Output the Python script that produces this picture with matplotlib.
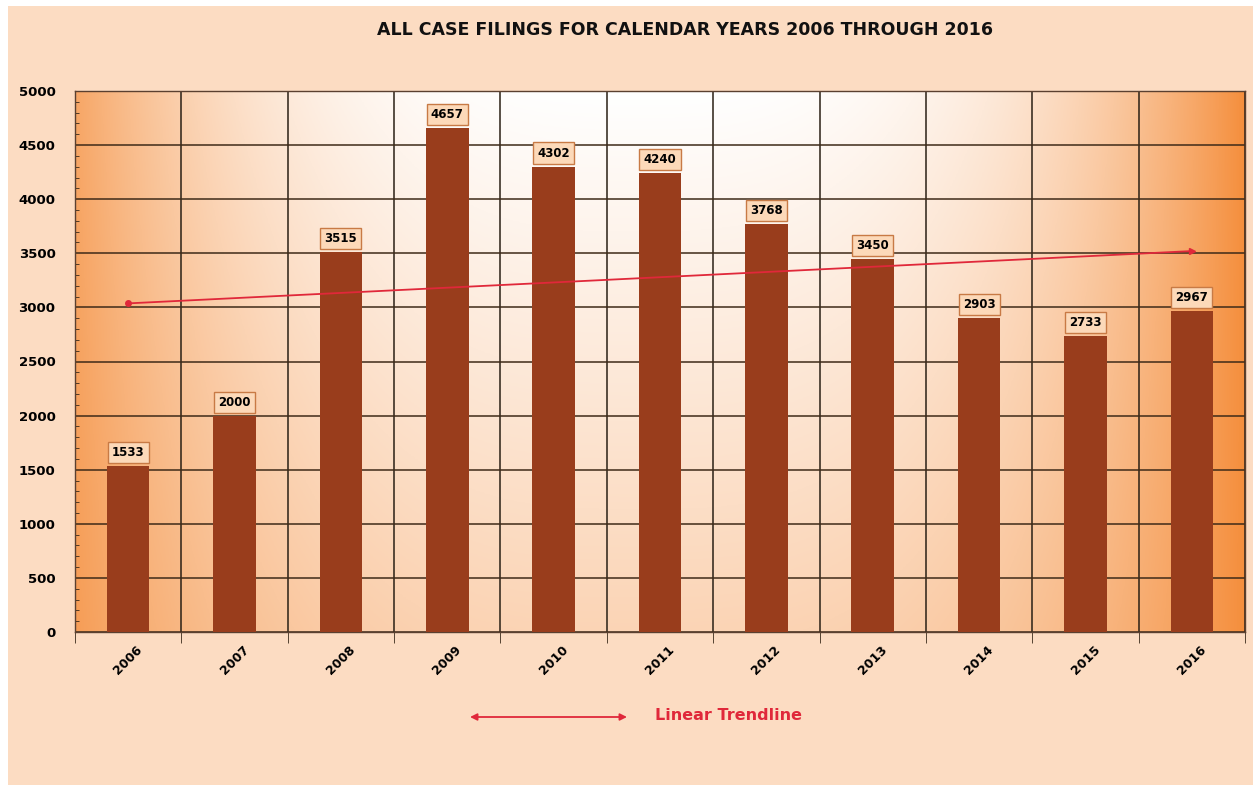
import numpy as np
import matplotlib
matplotlib.use("Agg")
import matplotlib.pyplot as plt
from matplotlib.patches import Rectangle
from matplotlib.ticker import MultipleLocator

years = ["2006", "2007", "2008", "2009", "2010", "2011", "2012", "2013", "2014", "2015", "2016"]
filings = [1533, 2000, 3515, 4657, 4302, 4240, 3768, 3450, 2903, 2733, 2967]

title = "ALL CASE FILINGS FOR CALENDAR YEARS 2006 THROUGH 2016"
bar_color = "#993d1c"
trend_color = "#e0283a"

fig = plt.figure(figsize=(12.59, 7.91), dpi=100, facecolor="white")
# peach card behind everything
fig.patches.append(Rectangle((8 / 1259, 6 / 791), 1245 / 1259, 779 / 791,
                             transform=fig.transFigure, facecolor="#fcdcc2",
                             edgecolor="none", zorder=-10))

ax = fig.add_axes([75 / 1259, 1 - 632 / 791, 1170 / 1259, 541 / 791])
x = np.arange(len(years))

# orange-to-white background in the plot area
gx = np.linspace(0, 1, 400)
gy = np.linspace(0, 1, 200)
GX, GY = np.meshgrid(gx, gy)
h = np.clip(np.abs(GX - 0.48) / 0.52, 0, 1)
w = (1 - h ** 3) * (0.62 + 0.38 * GY)
orange = np.array([0.96, 0.56, 0.24])
img = orange[None, None, :] * (1 - w[..., None]) + w[..., None]
ax.imshow(img, extent=(-0.5, 10.5, 0, 5000), origin="lower", aspect="auto", zorder=0)

ax.bar(x, filings, width=0.4, color=bar_color, zorder=3)

for xi, v in zip(x, filings):
    ax.annotate(str(v), (xi, v), xytext=(0, 5), textcoords="offset points",
                ha="center", va="bottom", fontsize=8.5, fontweight="bold",
                zorder=5,
                bbox=dict(boxstyle="square,pad=0.35", fc="#fcd9b9", ec="#c87a45", lw=1))

# linear trendline
slope, icpt = np.polyfit(x, filings, 1)
tx = np.array([x[0], x[-1]])
ty = slope * tx + icpt
ax.plot(tx, ty, color=trend_color, lw=1.3, zorder=4)
ax.plot(tx[0], ty[0], "o", color=trend_color, ms=4, zorder=4)
ax.plot(tx[-1], ty[-1], ">", color=trend_color, ms=5, zorder=4)

ax.set_xlim(-0.5, 10.5)
ax.set_ylim(0, 5000)
ax.set_xticks(x)
ax.set_xticklabels(years, rotation=45, ha="center", fontsize=9, fontweight="bold")
ax.set_xticks(np.arange(-0.5, 11, 1), minor=True)
ax.tick_params(axis="x", which="major", length=0, pad=8)
ax.tick_params(axis="x", which="minor", length=8, direction="out", color="#3a2a1a")
ax.yaxis.set_major_locator(MultipleLocator(500))
ax.yaxis.set_minor_locator(MultipleLocator(100))
ax.tick_params(axis="y", which="major", length=0, pad=14, labelsize=9.5)
ax.tick_params(axis="y", which="minor", length=3, direction="in", color="#3a2a1a")
for lab in ax.get_yticklabels():
    lab.set_fontweight("bold")

ax.grid(axis="y", which="major", color="#3e2a18", lw=1.1, zorder=1)
ax.grid(axis="x", which="minor", color="#2a2015", lw=1.1, zorder=1)
ax.set_axisbelow(True)
for s in ax.spines.values():
    s.set_color("#5a4030")
    s.set_linewidth(1)

fig.text(685 / 1259, 1 - 30 / 791, title, ha="center", va="center",
         fontsize=12.5, fontweight="bold", color="#111111")

# legend for the trendline
ax.annotate("", xy=(470 / 1259, 1 - 717 / 791), xytext=(627 / 1259, 1 - 717 / 791),
            xycoords="figure fraction", textcoords="figure fraction",
            arrowprops=dict(arrowstyle="<|-|>", color=trend_color, lw=1.3,
                            mutation_scale=10, shrinkA=0, shrinkB=0))
fig.text(655 / 1259, 1 - 716 / 791, "Linear Trendline", ha="left", va="center",
         fontsize=11.5, fontweight="bold", color=trend_color)

fig.savefig("out.png", dpi=100, facecolor=fig.get_facecolor())
